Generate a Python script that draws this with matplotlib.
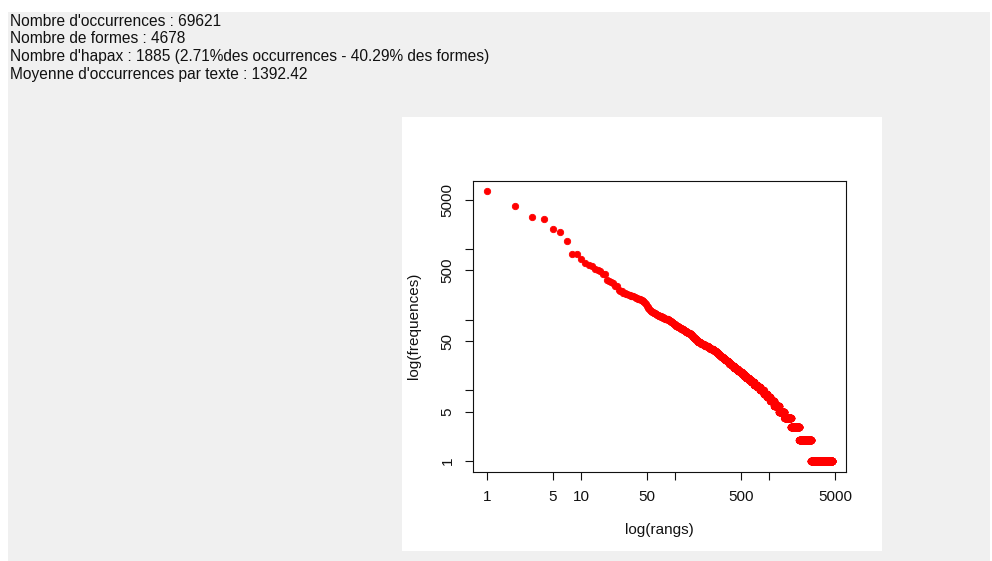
import numpy as np
import matplotlib
matplotlib.use("Agg")
import matplotlib.pyplot as plt
from matplotlib.patches import Rectangle
from matplotlib.ticker import NullLocator

plt.rcParams["font.family"] = ["Liberation Sans", "DejaVu Sans"]

# Summary lines shown above the plot.
info_lines = [
    "Nombre d'occurrences : 69621",
    "Nombre de formes : 4678",
    "Nombre d'hapax : 1885 (2.71%des occurrences - 40.29% des formes)",
    "Moyenne d'occurrences par texte : 1392.42",
]

# Frequencies of the most frequent forms (ranks 1..84).
top_freqs = [
    6590, 4140, 2830, 2710, 1910, 1775, 1295, 850, 845, 735,
    635, 602, 570, 520, 500, 487, 450, 445, 368, 360,
    340, 335, 305, 300, 265, 260, 255, 240, 238, 235,
    232, 228, 224, 221, 218, 215, 210, 205, 202, 200,
    198, 196, 193, 190, 186, 182, 178, 172, 165, 158,
    152, 147, 142, 138, 135, 132, 130, 128, 126, 125,
    123, 121, 120, 118, 117, 116, 115, 114, 113, 112,
    111, 110, 109, 108, 107, 106, 105, 104, 104, 103,
    103, 102, 102, 101,
]

# Frequency spectrum for the rest: number of forms seen exactly f times.
spectrum_freqs = list(range(1, 101))
spectrum_counts = [
    1885, 700, 390, 250, 180, 140, 103, 85, 75, 70,
    60, 50, 45, 40, 35, 32, 28, 25, 23, 20,
    19, 17, 15, 14, 13, 13, 11, 11, 9, 10,
    8, 8, 7, 7, 10, 9, 9, 9, 7, 7,
    7, 7, 7, 7, 6, 6, 5, 5, 5, 3,
    2, 2, 3, 2, 2, 3, 2, 2, 2, 2,
    1, 2, 3, 3, 3, 2, 3, 2, 3, 2,
    2, 2, 2, 2, 2, 2, 2, 2, 2, 1,
    2, 1, 2, 1, 1, 1, 1, 1, 1, 1,
    1, 1, 1, 1, 1, 1, 1, 1, 1, 1,
]

tick_values = [1, 5, 10, 50, 100, 500, 1000, 5000]
x_tick_labels = ["1", "5", "10", "50", "", "500", "", "5000"]
y_tick_labels = ["1", "5", "", "50", "", "500", "", "5000"]

freqs = np.concatenate([
    np.array(top_freqs, dtype=float),
    np.repeat(spectrum_freqs, spectrum_counts)[::-1].astype(float),
])
ranks = np.arange(1, len(freqs) + 1)

W, H = 992, 561
fig = plt.figure(figsize=(W / 100, H / 100), dpi=100, facecolor="white")


def px_rect(x0, y0, x1, y1, color, z):
    fig.patches.append(Rectangle(
        (x0 / W, 1 - y1 / H), (x1 - x0) / W, (y1 - y0) / H,
        transform=fig.transFigure, facecolor=color, edgecolor="none", zorder=z,
    ))


px_rect(8, 12, 990, 561, "#f0f0f0", -3)
px_rect(402, 117, 882, 551, "white", -2)

for i, line in enumerate(info_lines):
    fig.text(10 / W, 1 - (21 + i * 17.7) / H, line, fontsize=11.2,
             ha="left", va="center", color="#111111")

ax = fig.add_axes([473.3 / W, 1 - 471.7 / H, (846 - 473.3) / W, (471.7 - 180.7) / H])
ax.set_zorder(1)
ax.set_facecolor("white")
ax.plot(ranks, freqs, "o", color="red", ms=4.6, mew=0.6, mec="red")
ax.set_xscale("log")
ax.set_yscale("log")


def r_limits(v):
    # R extends the data range by 4% on each side.
    lo, hi = np.log10(v.min()), np.log10(v.max())
    pad = 0.04 * (hi - lo)
    return 10 ** (lo - pad), 10 ** (hi + pad)


ax.set_xlim(*r_limits(ranks))
ax.set_ylim(*r_limits(freqs))

ax.set_xticks(tick_values)
ax.set_xticklabels(x_tick_labels)
ax.set_yticks(tick_values)
ax.set_yticklabels(y_tick_labels, rotation=90, va="center")
ax.xaxis.set_minor_locator(NullLocator())
ax.yaxis.set_minor_locator(NullLocator())

ax.tick_params(axis="both", direction="out", length=5.5, width=0.8,
               labelsize=11, colors="#111111")
ax.tick_params(axis="x", pad=7.5)
ax.tick_params(axis="y", pad=8)
for s in ax.spines.values():
    s.set_linewidth(0.8)
    s.set_color("#111111")

ax.set_xlabel("log(rangs)", fontsize=11, labelpad=14, color="#111111")
ax.set_ylabel("log(frequences)", fontsize=11, labelpad=14, color="#111111")

fig.savefig("out.png", dpi=100)
plt.close(fig)
